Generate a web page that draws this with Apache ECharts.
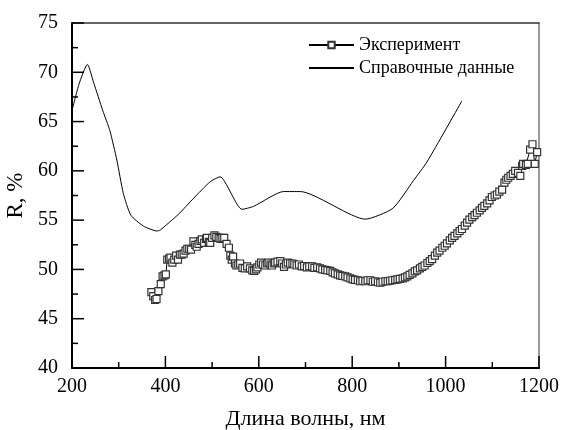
<!DOCTYPE html>
<html>
<head>
<meta charset="utf-8">
<script src="https://cdn.jsdelivr.net/npm/echarts@6/dist/echarts.min.js"></script>
<style>
  html, body { margin: 0; padding: 0; background: #fff; }
  #chart { width: 564px; height: 430px; }
</style>
</head>
<body>
<div id="chart"></div>
<script>
// длина волны (нм) и отражение (%) — справочные данные
const refX = [200, 215, 233, 246, 266, 281, 296, 310, 326, 353, 382, 389, 428, 460, 496, 517, 564, 589, 653, 689, 828, 887, 931, 960, 1035];
const refY = [66.1, 68.8, 70.8, 69.0, 66.1, 64.1, 61.1, 57.7, 55.5, 54.4, 53.9, 54.0, 55.6, 57.2, 58.9, 59.4, 56.1, 56.4, 57.9, 57.9, 55.1, 56.2, 59.0, 60.9, 67.1];

// эксперимент
const expX = [370, 374, 378, 381, 385, 390, 394, 398, 401, 404, 408, 411, 415, 419, 423, 427, 431, 435, 439, 443,
  447, 451, 455, 460, 464, 467, 471, 475, 478, 483, 487, 489, 493, 496, 500, 505, 509, 514, 518, 522,
  526, 531, 536, 539, 542, 545, 549, 552, 556, 560, 565, 570, 575, 581, 586, 590, 594, 597, 601, 605,
  609, 614, 618, 621, 625, 628, 632, 635, 640, 646, 650, 654, 658, 662, 667, 672, 676, 681, 686, 692,
  697, 703, 708, 714, 719, 725, 731, 736, 742, 747, 753, 758, 763, 769, 774, 779, 785, 790, 796, 801,
  806, 812, 817, 822, 828, 833, 839, 844, 849, 855, 860, 865, 871, 876, 881, 886, 892, 897, 902, 908,
  913, 918, 923, 929, 934, 939, 945, 950, 955, 961, 966, 971, 977, 982, 987, 993, 998, 1003, 1009, 1014,
  1019, 1025, 1030, 1035, 1041, 1046, 1051, 1057, 1062, 1067, 1073, 1078, 1083, 1089, 1094, 1099, 1105, 1110, 1115, 1121,
  1126, 1130, 1134, 1139, 1144, 1149, 1155, 1160, 1164, 1166, 1172, 1176, 1181, 1186, 1191, 1196];
const expY = [47.7, 47.3, 46.9, 47.0, 47.8, 48.5, 49.3, 49.4, 49.5, 51.0, 51.1, 51.2, 50.7, 51.0, 51.4, 51.0, 51.5, 51.5, 51.6, 51.9,
  52.1, 52.1, 52.0, 52.85, 52.5, 52.3, 52.6, 52.9, 53.05, 52.7, 53.1, 53.2, 52.8, 52.7, 53.2, 53.45, 53.3, 53.2, 53.1, 53.2,
  53.2, 52.6, 52.2, 51.4, 51.0, 51.3, 50.6, 50.4, 50.5, 50.6, 50.15, 50.1, 50.3, 50.1, 49.9, 49.85, 50.0, 50.2, 50.5, 50.7,
  50.5, 50.4, 50.6, 50.7, 50.5, 50.4, 50.6, 50.7, 50.8, 50.85, 50.6, 50.25, 50.5, 50.7, 50.6, 50.6, 50.5, 50.4, 50.5, 50.3,
  50.35, 50.2, 50.3, 50.3, 50.15, 50.2, 50.1, 50.0, 49.95, 49.9, 49.85, 49.7, 49.6, 49.5, 49.4, 49.35, 49.3, 49.2, 49.1, 49.0,
  48.95, 48.9, 48.8, 48.85, 48.8, 48.9, 48.9, 48.75, 48.8, 48.7, 48.65, 48.75, 48.8, 48.8, 48.85, 48.9, 48.95, 49.0, 49.05, 49.1,
  49.2, 49.3, 49.45, 49.6, 49.8, 49.9, 50.1, 50.25, 50.4, 50.65, 50.85, 51.05, 51.4, 51.7, 51.9, 52.2, 52.4, 52.65, 52.95, 53.2,
  53.4, 53.65, 53.9, 54.1, 54.45, 54.75, 55.05, 55.3, 55.5, 55.75, 56.0, 56.25, 56.45, 56.7, 57.0, 57.35, 57.5, 57.6, 57.9, 58.1,
  58.8, 59.1, 59.3, 59.5, 59.7, 60.0, 59.8, 59.5, 60.5, 60.7, 60.6, 60.7, 62.15, 62.7, 60.7, 61.9];

// деления осей (основные + промежуточные)
const xTicks = [200, 300, 400, 500, 600, 700, 800, 900, 1000, 1100, 1200];
const yTicks = [40, 42.5, 45, 47.5, 50, 52.5, 55, 57.5, 60, 62.5, 65, 67.5, 70, 72.5, 75];

const font = '"Liberation Serif", "DejaVu Serif", serif';

let myChart = echarts.init(document.getElementById('chart'));
myChart.setOption({
    animation: false,
    backgroundColor: '#fff',
    grid: {
        left: 72, right: 25, top: 23, bottom: 62,
        containLabel: false,
        outerBoundsMode: 'none'
    },
    legend: {
        orient: 'vertical',
        left: 308,
        top: 36,
        itemWidth: 45,
        itemHeight: 8,
        itemGap: 5,
        padding: 0,
        textStyle: { fontFamily: font, fontSize: 18, color: '#000' },
        data: [
            { name: 'Эксперимент' },
            { name: 'Справочные данные', itemStyle: { opacity: 0 } }
        ]
    },
    xAxis: [
        {
            // верхняя рамка
            type: 'value',
            position: 'top',
            min: 200, max: 1200,
            axisLine: { show: true, onZero: false, lineStyle: { color: '#333', width: 1.5 } },
            axisTick: { show: false },
            axisLabel: { show: false },
            splitLine: { show: false }
        },
        {
            type: 'value',
            position: 'bottom',
            min: 200, max: 1200, interval: 200,
            name: 'Длина волны, нм',
            nameLocation: 'middle',
            nameGap: 40,
            nameTextStyle: { fontFamily: font, fontSize: 22, color: '#000' },
            axisLine: { show: true, onZero: false, lineStyle: { color: '#000', width: 2 } },
            axisTick: { show: false },
            axisLabel: { fontFamily: font, fontSize: 20, color: '#000', margin: 9, formatter: v => String(v) },
            splitLine: { show: false }
        }
    ],
    yAxis: [
        {
            type: 'value',
            position: 'left',
            min: 40, max: 75, interval: 5,
            name: 'R, %',
            nameLocation: 'middle',
            nameGap: 42,
            nameTextStyle: { fontFamily: font, fontSize: 23, color: '#000' },
            axisLine: { show: true, onZero: false, lineStyle: { color: '#000', width: 2 } },
            axisTick: { show: false },
            axisLabel: { fontFamily: font, fontSize: 20, color: '#000', margin: 14 },
            splitLine: { show: false }
        },
        {
            // правая рамка
            type: 'value',
            position: 'right',
            min: 40, max: 75,
            axisLine: { show: true, onZero: false, lineStyle: { color: '#777', width: 1.5 } },
            axisTick: { show: false },
            axisLabel: { show: false },
            splitLine: { show: false }
        }
    ],
    series: [
        {
            name: 'Эксперимент',
            type: 'line',
            xAxisIndex: 1,
            data: expX.map((x, i) => [x, expY[i]]),
            symbol: 'rect',
            symbolSize: 7,
            showAllSymbol: true,
            lineStyle: { color: '#000', width: 1 },
            itemStyle: { color: '#fff', borderColor: '#333', borderWidth: 1.2 },
            z: 3
        },
        {
            name: 'Справочные данные',
            type: 'line',
            xAxisIndex: 1,
            data: refX.map((x, i) => [x, refY[i]]),
            symbol: 'none',
            smooth: 0.2,
            lineStyle: { color: '#000', width: 1 },
            itemStyle: { color: '#000' },
            z: 2
        }
    ]
});

// деления внутрь рамки — через масштаб осей
let x0 = myChart.convertToPixel({ xAxisIndex: 1 }, 200);
let y0 = myChart.convertToPixel({ yAxisIndex: 0 }, 40);
let ticks = [];
xTicks.forEach(v => {
    let px = myChart.convertToPixel({ xAxisIndex: 1 }, v);
    let len = (v % 200 === 0) ? 12 : 6;
    ticks.push({ type: 'line', shape: { x1: px, y1: y0, x2: px, y2: y0 - len }, style: { stroke: '#000', lineWidth: 1.5 }, z: 10 });
});
yTicks.forEach(v => {
    let py = myChart.convertToPixel({ yAxisIndex: 0 }, v);
    let len = (v % 5 === 0) ? 12 : 6;
    ticks.push({ type: 'line', shape: { x1: x0, y1: py, x2: x0 + len, y2: py }, style: { stroke: '#000', lineWidth: 1.5 }, z: 10 });
});
myChart.setOption({ graphic: ticks });
</script>
</body>
</html>
